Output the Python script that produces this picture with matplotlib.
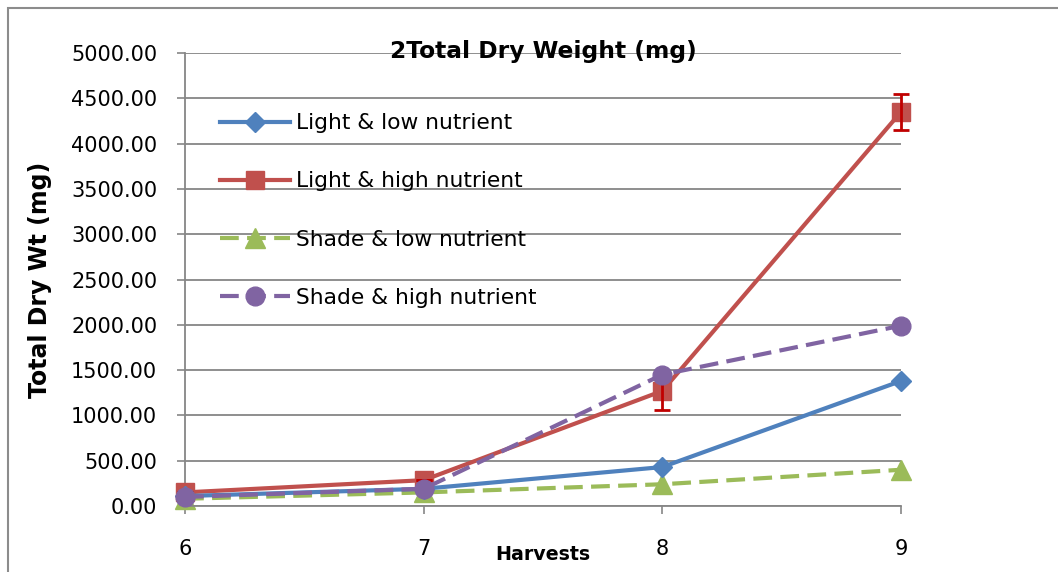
import numpy as np
import matplotlib.pyplot as plt
import matplotlib.patches as patches

harvests = [6, 7, 8, 9]
light_low = [110, 190, 430, 1380]
light_high = [150, 285, 1270, 4350]
light_high_err = [0, 0, 210, 200]
shade_low = [80, 150, 240, 400]
shade_high = [100, 190, 1450, 1990]
yticks = [0, 500, 1000, 1500, 2000, 2500, 3000, 3500, 4000, 4500, 5000]

plt.rcParams['font.family'] = ['DejaVu Sans']

fig = plt.figure(figsize=(10.58, 5.72), dpi=100)
ax = fig.add_axes([185 / 1058, 1 - 506 / 572, 716 / 1058, 453 / 572])

# outer chart frame
fig.patches.append(patches.Rectangle((8 / 1058, -0.1), 1.2, 1 - 8 / 572 + 0.1,
                                     transform=fig.transFigure, fill=False,
                                     edgecolor='#8c8c8c', linewidth=1.5))

dash = (0, (4.5, 2))
ax.plot(harvests, light_low, color='#4F81BD', lw=3, marker='D', ms=10,
        label='Light & low nutrient', clip_on=False, zorder=4)
ax.plot(harvests, light_high, color='#C0504D', lw=3, marker='s', ms=13,
        label='Light & high nutrient', clip_on=False, zorder=3)
ax.errorbar(harvests, light_high, yerr=light_high_err, fmt='none', ecolor='#C00000',
            elinewidth=2, capsize=6, capthick=2, clip_on=False, zorder=5)
ax.plot(harvests, shade_low, color='#9BBB59', lw=3, ls=dash, marker='^', ms=14,
        label='Shade & low nutrient', clip_on=False, zorder=2)
ax.plot(harvests, shade_high, color='#8064A2', lw=3, ls=dash, marker='o', ms=13.5,
        label='Shade & high nutrient', clip_on=False, zorder=6)

ax.set_xlim(6, 9)
ax.set_ylim(0, 5000)
ax.set_xticks(harvests)
ax.set_yticks(yticks)
ax.set_yticklabels([f'{v:.2f}' for v in yticks])
ax.tick_params(axis='both', labelsize=15, colors='#868686', labelcolor='black',
               length=6, width=1.2)
ax.tick_params(axis='y', pad=14)
ax.tick_params(axis='x', pad=18)
ax.grid(axis='y', color='#868686', lw=1.3)
ax.set_axisbelow(True)
for s in ['top', 'right']:
    ax.spines[s].set_visible(False)
for s in ['left', 'bottom']:
    ax.spines[s].set_color('#868686')
    ax.spines[s].set_linewidth(1.3)

ax.set_title('2Total Dry Weight (mg)', fontsize=16.8, fontweight='bold', y=0.99, pad=0)
ax.set_xlabel('Harvests', fontsize=13.7, fontweight='bold', labelpad=-10)
ax.set_ylabel('Total Dry Wt (mg)', fontsize=17, fontweight='bold', labelpad=14)

ax.legend(loc='upper left', bbox_to_anchor=(0.049, 0.867), frameon=False, fontsize=15.7,
          handlelength=3.2, handletextpad=0.3, labelspacing=1.75, borderpad=0,
          borderaxespad=0)

fig.savefig('out.png', dpi=100)
